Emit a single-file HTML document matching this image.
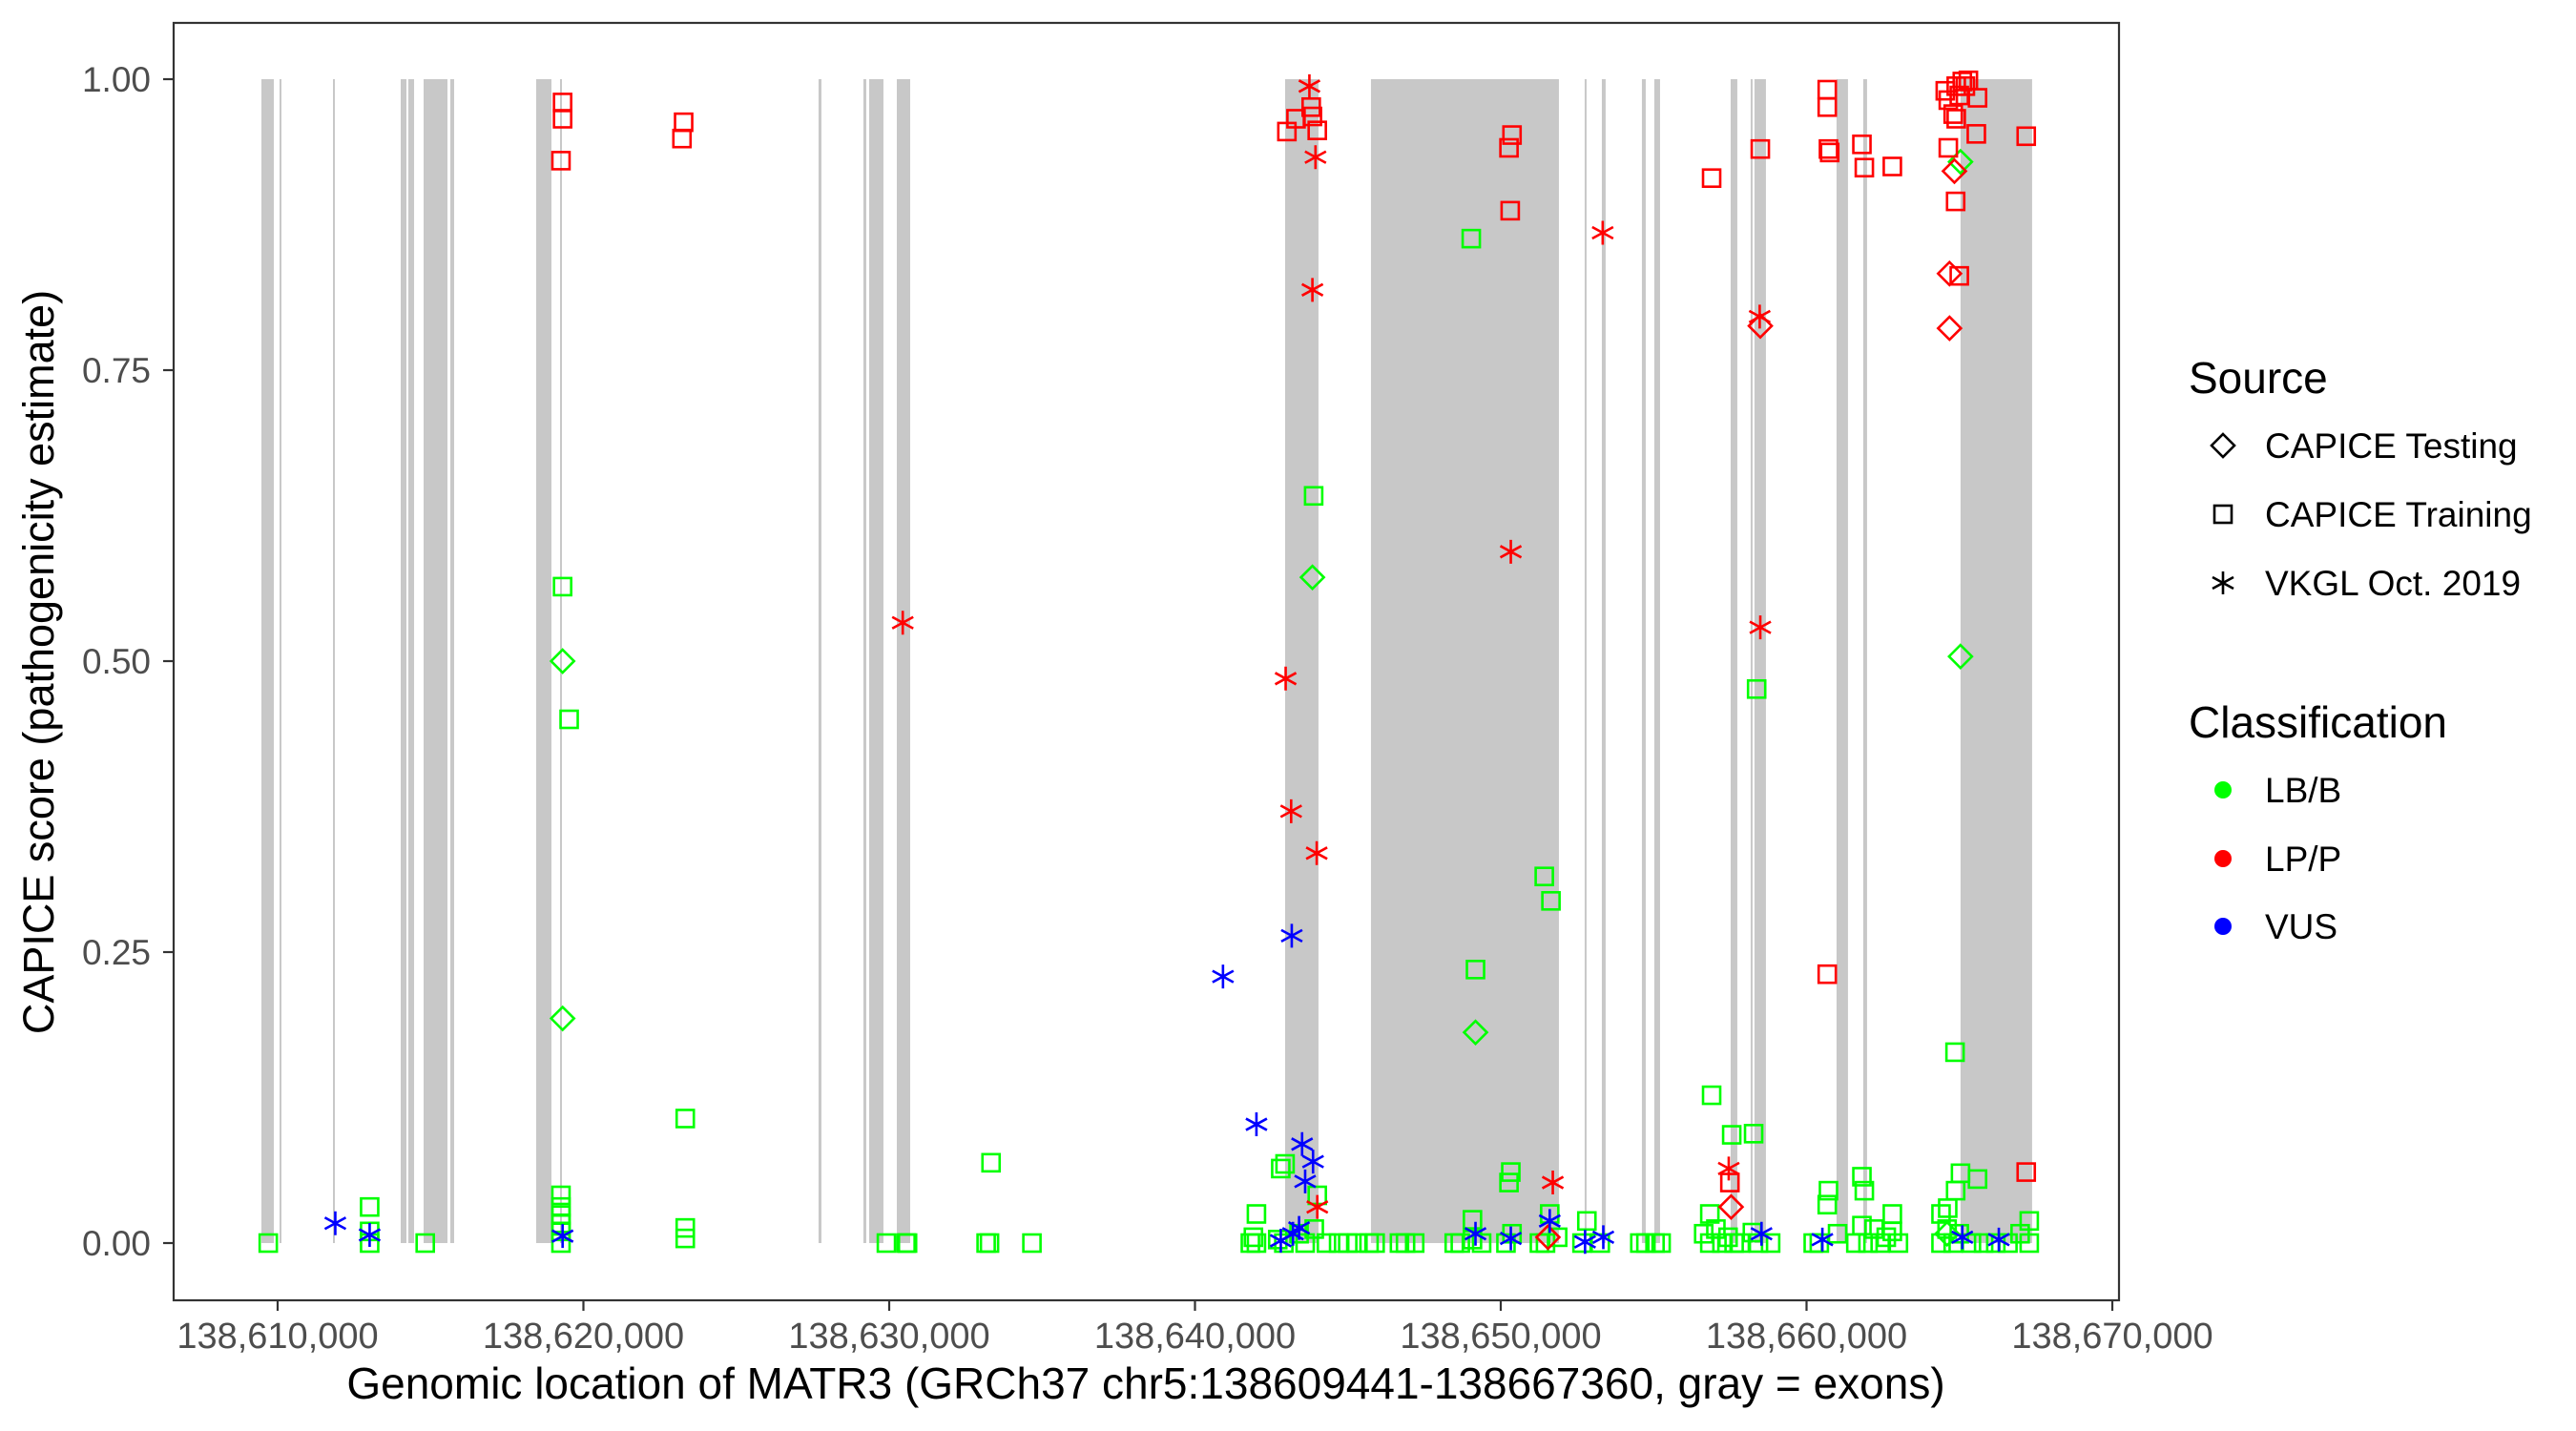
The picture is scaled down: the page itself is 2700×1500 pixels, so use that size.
<!DOCTYPE html>
<html><head><meta charset="utf-8"><title>MATR3 CAPICE scores</title>
<style>
html,body{margin:0;padding:0;background:#fff;}
svg{display:block;font-family:"Liberation Sans",Arial,sans-serif;}
</style></head>
<body>
<svg id="chart" width="2700" height="1500" viewBox="0 0 2700 1500" xmlns="http://www.w3.org/2000/svg">
<rect x="0" y="0" width="2700" height="1500" fill="#fff"/>
<g id="exons"></g>
<g id="points"></g>
<rect x="182" y="24" width="2039" height="1339" fill="none" stroke="#333" stroke-width="2.2"/>
<g id="axes"></g>
<text x="1201" y="1466" font-size="46" text-anchor="middle" fill="#000">Genomic location of MATR3 (GRCh37 chr5:138609441-138667360, gray = exons)</text>
<text transform="translate(56,694) rotate(-90)" font-size="45" text-anchor="middle" fill="#000">CAPICE score (pathogenicity estimate)</text>
<g>
  <text x="2294" y="412" font-size="46" fill="#000">Source</text>
  <g>
    <path d="M2330 455 L2342 467 L2330 479 L2318 467 Z" fill="none" stroke="#000" stroke-width="2.6"/>
    <text x="2374" y="480" font-size="37" fill="#000">CAPICE Testing</text>
  </g>
  <g>
    <rect x="2321" y="530" width="18" height="18" fill="none" stroke="#000" stroke-width="2.6"/>
    <text x="2374" y="552" font-size="37" fill="#000">CAPICE Training</text>
  </g>
  <g>
    <path d="M2330 599 V623 M2319 605 L2341 617 M2319 617 L2341 605" stroke="#000" stroke-width="2.6"/>
    <text x="2374" y="624" font-size="37" fill="#000">VKGL Oct. 2019</text>
  </g>
  <text x="2294" y="773" font-size="46" fill="#000">Classification</text>
  <g>
    <circle cx="2330" cy="828" r="9" fill="#00FF00"/>
    <text x="2374" y="841" font-size="37" fill="#000">LB/B</text>
  </g>
  <g>
    <circle cx="2330" cy="900" r="9" fill="#FF0000"/>
    <text x="2374" y="913" font-size="37" fill="#000">LP/P</text>
  </g>
  <g>
    <circle cx="2330" cy="971" r="9" fill="#0000FF"/>
    <text x="2374" y="984" font-size="37" fill="#000">VUS</text>
  </g>
</g>
</svg>
<script>
// ---- data ----
const exonStarts = [138609470,138610062,138611810,138614025,138614274,138614774,138615647,138618455,138619235,138627690,138629157,138629344,138630249,138642947,138645755,138652744,138653306,138654616,138655022,138657518,138658173,138658298,138660981,138661854,138665037];
const exonEnds   = [138609875,138610125,138611872,138614212,138614462,138615554,138615772,138618954,138619298,138627784,138629250,138629812,138630686,138644039,138651902,138652806,138653430,138654741,138655209,138657736,138658204,138658672,138661355,138661979,138667377];

const xTicks = [138610000,138620000,138630000,138640000,138650000,138660000,138670000];
const xTickLabels = ["138,610,000","138,620,000","138,630,000","138,640,000","138,650,000","138,660,000","138,670,000"];
const yTicks = [0,0.25,0.5,0.75,1];
const yTickLabels = ["0.00","0.25","0.50","0.75","1.00"];

// green (LB/B) training squares
const greenSquarePos = [138609693,138613009,138613009,138613009,138614827,138619319,138619533,138619266,138619266,138619266,138619266,138619266,138619266,138623330,138623330,138623330,138629908,138630550,138630600,138633331,138633280,138633170,138634668,
138643881,138649035,138649174,138651423,138651642,138650329,138650269,138656896,138657553,138658269,138658368,138661811,138661890,138660717,138660677,138664856,138665035,138665592,138664876,138642806,138642946,138642010,138644000,138651602,138649075,138652816,138656836,138662806,138667283,138664398,138664617,
138641811,138641911,138642010,138642707,138642906,138643404,138643603,138643901,138644299,138644697,138644996,138645294,138645692,138645891,138646687,138646886,138647185,138648478,138648677,138649075,138649374,138650170,138650368,138651264,138651463,138651861,138652657,138653254,138654548,138654747,138655045,138655244,138656637,138656836,138657035,138657234,138657433,138657632,138657831,138658229,138658428,138658826,138660219,138660418,138661015,138661612,138661811,138662010,138662209,138662408,138662607,138662806,138663005,138664398,138664597,138664796,138664995,138665393,138665791,138666189,138666587,138666985,138667283];
const greenSquareVal = [0,0.031,0.010,0,0,0.564,0.450,0.041,0.031,0.024,0.017,0.010,0,0.107,0.013,0.004,0,0,0,0.069,0,0,0,
0.642,0.863,0.235,0.315,0.294,0.061,0.052,0.127,0.093,0.094,0.476,0.057,0.045,0.045,0.033,0.164,0.060,0.055,0.045,0.064,0.068,0.025,0.041,0.025,0.020,0.019,0.025,0.025,0.019,0.025,0.030,
0,0.005,0,0.003,0,0.008,0,0.012,0,0,0,0,0,0,0,0,0,0,0,0.003,0,0,0.008,0,0,0.005,0,0,0,0,0,0,0.008,0,0.012,0,0.005,0,0,0.009,0,0,0,0,0.008,0,0.015,0,0.012,0,0.005,0.010,0,0,0.012,0,0.008,0,0,0,0,0.008,0];
// green testing diamonds
const greenDiamondPos = [138619319,138619319,138643841,138649174,138665035,138665035,138664597];
const greenDiamondVal = [0.500,0.193,0.572,0.181,0.504,0.929,0.008];
// red (LP/P) training squares
const redSquarePos = [138619319,138619319,138619266,138623277,138623223,138643304,138643801,138643841,138643006,138643999,138650368,138650269,138650309,138656896,138658488,138657493,138660677,138660677,138660717,138660757,138660677,138661811,138661890,138662806,138664537,138664636,138664896,138665094,138665293,138664995,138664796,138664896,138665592,138665194,138665553,138664636,138664876,138664995,138667184,138667184];
const redSquareVal = [0.980,0.966,0.930,0.963,0.949,0.966,0.976,0.968,0.955,0.956,0.952,0.941,0.887,0.915,0.940,0.052,0.991,0.976,0.940,0.937,0.231,0.944,0.924,0.925,0.990,0.982,0.994,0.998,0.999,0.986,0.970,0.966,0.984,0.994,0.953,0.941,0.895,0.831,0.951,0.061];
// red testing diamonds
const redDiamondPos = [138651543,138658488,138657533,138664836,138664676,138664676];
const redDiamondVal = [0.005,0.788,0.031,0.921,0.833,0.786];
// red VKGL asterisks
const redStarPos = [138630443,138643742,138643941,138643841,138642966,138643145,138643981,138644000,138650329,138653334,138651702,138658468,138658488,138657456];
const redStarVal = [0.533,0.994,0.933,0.819,0.485,0.371,0.335,0.031,0.594,0.868,0.052,0.796,0.529,0.064];
// blue (VUS) VKGL asterisks
const blueStarPos = [138611886,138613009,138619319,138640916,138642010,138643165,138643503,138643861,138643603,138643404,138643205,138642807,138649174,138650329,138651602,138652757,138653354,138658528,138660518,138665094,138666288];
const blueStarVal = [0.017,0.007,0.006,0.229,0.102,0.264,0.085,0.070,0.053,0.013,0.008,0.002,0.008,0.004,0.019,0.001,0.005,0.008,0.003,0.005,0.003];

// ---- scales ----
const X0 = 138610000, X1 = 138670000, PX0 = 291, PX1 = 2214;
const PY0 = 1303, PY1 = 83;
function xs(g){ return PX0 + (g - X0) / (X1 - X0) * (PX1 - PX0); }
function ys(v){ return PY0 + v * (PY1 - PY0); }
const NS = "http://www.w3.org/2000/svg";
function mk(tag, attrs, parent){
  const el = document.createElementNS(NS, tag);
  for (const k in attrs) el.setAttribute(k, attrs[k]);
  parent.appendChild(el);
  return el;
}
const GREEN = "#00FF00", RED = "#FF0000", BLUE = "#0000FF";

// exons
const exG = document.getElementById("exons");
for (let i = 0; i < exonStarts.length; i++){
  const x1 = xs(exonStarts[i]), x2 = xs(exonEnds[i]);
  const r = mk("rect", {x: x1, y: ys(1), width: Math.max(2, x2 - x1), height: ys(0) - ys(1), fill: "#C8C8C8"}, exG);
  
  
}

// axes
const ax = document.getElementById("axes");
for (let i = 0; i < xTicks.length; i++){
  const x = xs(xTicks[i]);
  const t = mk("line", {x1: x, x2: x, y1: 1363, y2: 1374, stroke: "#333", "stroke-width": 2.2}, ax);
  
  
  const lb = mk("text", {x: x, y: 1413, "font-size": 38, "text-anchor": "middle", fill: "#4D4D4D"}, ax);
  lb.textContent = xTickLabels[i];
  
  
}
for (let i = 0; i < yTicks.length; i++){
  const y = ys(yTicks[i]);
  const t = mk("line", {x1: 171, x2: 182, y1: y, y2: y, stroke: "#333", "stroke-width": 2.2}, ax);
  
  
  const lb = mk("text", {x: 158, y: y + 13, "font-size": 37, "text-anchor": "end", fill: "#4D4D4D"}, ax);
  lb.textContent = yTickLabels[i];
  
  
}

// points
const pg = document.getElementById("points");
function square(g, v, c){
  const x = xs(g), y = ys(v);
  const el = mk("rect", {x: x - 9, y: y - 9, width: 18, height: 18, fill: "none", stroke: c, "stroke-width": 2.6}, pg);
  
  
}
function diamond(g, v, c){
  const x = xs(g), y = ys(v);
  const el = mk("path", {d: `M${x} ${y-12} L${x+12} ${y} L${x} ${y+12} L${x-12} ${y} Z`, fill: "none", stroke: c, "stroke-width": 2.6}, pg);
  
  
}
function star(g, v, c){
  const x = xs(g), y = ys(v);
  const el = mk("path", {d: `M${x} ${y-12.5} V${y+12.5} M${x-11} ${y-6} L${x+11} ${y+6} M${x-11} ${y+6} L${x+11} ${y-6}`, stroke: c, "stroke-width": 2.6, fill: "none"}, pg);
  
  
}
for (let i = 0; i < greenSquarePos.length; i++) square(greenSquarePos[i], greenSquareVal[i], GREEN);
for (let i = 0; i < greenDiamondPos.length; i++) diamond(greenDiamondPos[i], greenDiamondVal[i], GREEN);
for (let i = 0; i < redSquarePos.length; i++) square(redSquarePos[i], redSquareVal[i], RED);
for (let i = 0; i < redDiamondPos.length; i++) diamond(redDiamondPos[i], redDiamondVal[i], RED);
for (let i = 0; i < redStarPos.length; i++) star(redStarPos[i], redStarVal[i], RED);
for (let i = 0; i < blueStarPos.length; i++) star(blueStarPos[i], blueStarVal[i], BLUE);
</script>
</body></html>
